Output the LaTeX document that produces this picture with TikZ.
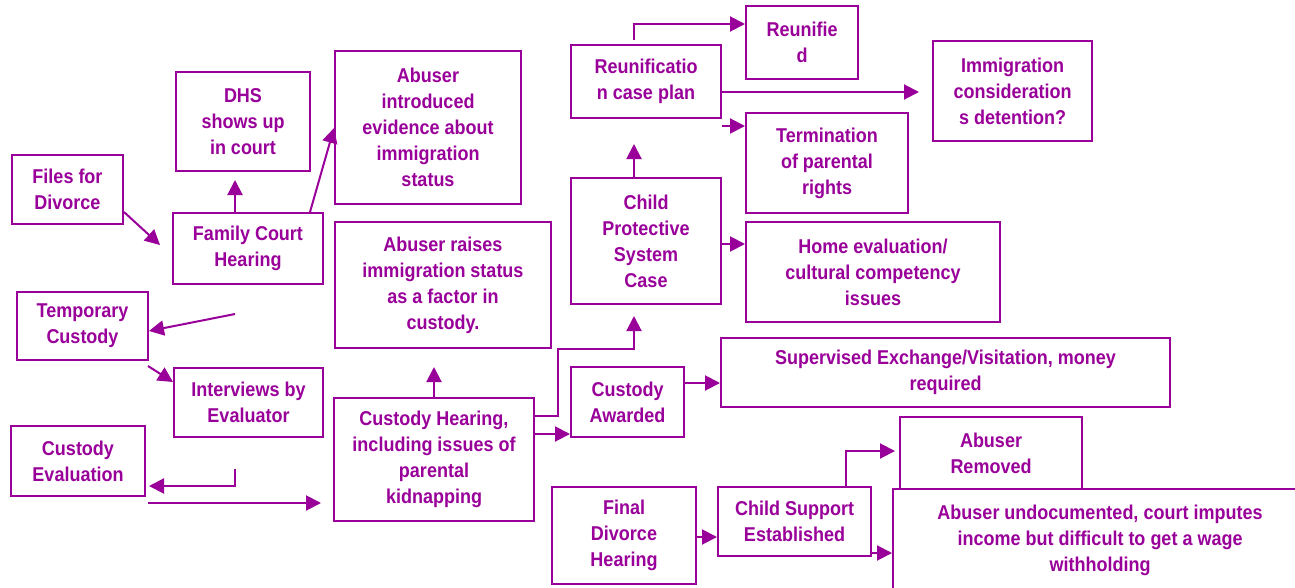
\documentclass[tikz,border=0pt]{standalone}
\usepackage{fontspec}
\setmainfont{Liberation Sans}[FakeStretch=0.9]
\usetikzlibrary{arrows.meta}
\definecolor{pc}{RGB}{153,0,153}
\tikzset{
  box/.style={draw=pc, line width=2pt, inner sep=0pt, align=center, text=pc,
    font=\bfseries\fontsize{20}{26}\selectfont},
  arr/.style={draw=pc, line width=2pt, -{Triangle[length=15pt,width=15pt]}},
}
\begin{document}
\begin{tikzpicture}[x=1pt,y=-1pt]
\useasboundingbox (0,0) rectangle (1295,587);
\clip (0,0) rectangle (1295,587);
% boxes
\node[box, minimum width=111pt, minimum height=69pt] (files) at (67.5,189.5) {Files for\\Divorce};
\node[box, minimum width=150pt, minimum height=71pt] (fam) at (248,248.5) {Family Court\\Hearing};
\node[box, minimum width=134pt, minimum height=99pt] (dhs) at (243,121.5) {DHS\\shows up\\in court};
\node[box, minimum width=186pt, minimum height=153pt] (intro) at (428,127.5) {Abuser\\introduced\\evidence about\\immigration\\status};
\node[box, minimum width=216pt, minimum height=126pt] (raises) at (443,285) {Abuser raises\\immigration status\\as a factor in\\custody.};
\node[box, minimum width=131pt, minimum height=68pt] (temp) at (82.5,326) {Temporary\\Custody};
\node[box, minimum width=149pt, minimum height=69pt] (interv) at (248.5,402.5) {Interviews by\\Evaluator};
\node[box, minimum width=134pt, minimum height=70pt] (ceval) at (78,461) {Custody\\Evaluation};
\node[box, minimum width=200pt, minimum height=123pt] (chear) at (434,459.5) {Custody Hearing,\\including issues of\\parental\\kidnapping};
\node[box, minimum width=150pt, minimum height=73pt] (reuplan) at (646,81.5) {Reunificatio\\n case plan};
\node[box, minimum width=112pt, minimum height=73pt] (reunified) at (802,42.5) {Reunifie\\d};
\node[box, minimum width=159pt, minimum height=100pt] (immig) at (1012.5,91) {Immigration\\consideration\\s detention?};
\node[box, minimum width=162pt, minimum height=100pt] (term) at (827,163) {Termination\\of parental\\rights};
\node[box, minimum width=150pt, minimum height=126pt] (cps) at (646,241) {Child\\Protective\\System\\Case};
\node[box, minimum width=254pt, minimum height=100pt] (home) at (873,272) {Home evaluation/\\cultural competency\\issues};
\node[box, minimum width=113pt, minimum height=70pt] (cawarded) at (627.5,402) {Custody\\Awarded};
\node[box, minimum width=449pt, minimum height=69pt] (superv) at (945.5,372.5) {Supervised Exchange/Visitation, money\\required};
\node[box, minimum width=182pt, minimum height=72pt] (removed) at (991,453) {Abuser\\Removed};
\node[box, minimum width=144pt, minimum height=97pt] (final) at (624,535.5) {Final\\Divorce\\Hearing};
\node[box, minimum width=153pt, minimum height=69pt] (csupport) at (794.5,521.5) {Child Support\\Established};
\node[box, minimum width=414pt, minimum height=102pt] (undoc) at (1100,540) {Abuser undocumented, court imputes\\income but difficult to get a wage\\withholding};
% free ends
\coordinate (famin) at (160,245);
\coordinate (tempfrom) at (235,314);
\coordinate (tempout) at (148,366);
\coordinate (evalfrom) at (235,469);
\coordinate (evalout) at (148,503);
\coordinate (termfrom) at (722,126);
% connectors
\draw[arr] (files.east |- 0,212) -- (famin);
\draw[arr] (fam.north -| 235,0) -- ([yshift=-8pt]dhs.south -| 235,0);
\draw[arr] (fam.north -| 310,0) -- (intro.west |- 0,128);
\draw[arr] (tempfrom) -- (temp.east |- 0,331);
\draw[arr] (tempout) -- (interv.west |- 0,382);
\draw[arr, shorten >=3pt] (evalfrom) |- (ceval.east |- 0,486);
\draw[arr, shorten >=12pt] (evalout) -- (chear.west |- 0,503);
\draw[arr, shorten >=18pt] (chear.north) -- (raises.south -| chear.north);
\draw[arr, shorten >=11pt] (chear.east |- 0,416) -- (558,416) -- (558,349) -- (634,349) -- (cps.south -| 634,0);
\draw[arr] (chear.east |- 0,434) -- (cawarded.west |- 0,434);
\draw[arr] (cawarded.east |- 0,383) -- (superv.west |- 0,383);
\draw[arr, shorten >=25pt] (cps.north -| 634,0) -- (reuplan.south -| 634,0);
\draw[arr] (cps.east |- 0,244) -- (home.west |- 0,244);
\draw[arr] (reuplan.north -| 634,0) ++(0,-4) |- (reunified.west |- 0,24);
\draw[arr, shorten >=13pt] (reuplan.east |- 0,92) -- (immig.west |- 0,92);
\draw[arr] (termfrom) -- (term.west |- 0,126);
\draw[arr, shorten >=4pt] (csupport.north -| 846,0) |- (removed.west |- 0,451);
\draw[arr] (csupport.east |- 0,553) -- (undoc.west |- 0,553);
\draw[arr] (final.east |- 0,537) -- (csupport.west |- 0,537);
\end{tikzpicture}
\end{document}
